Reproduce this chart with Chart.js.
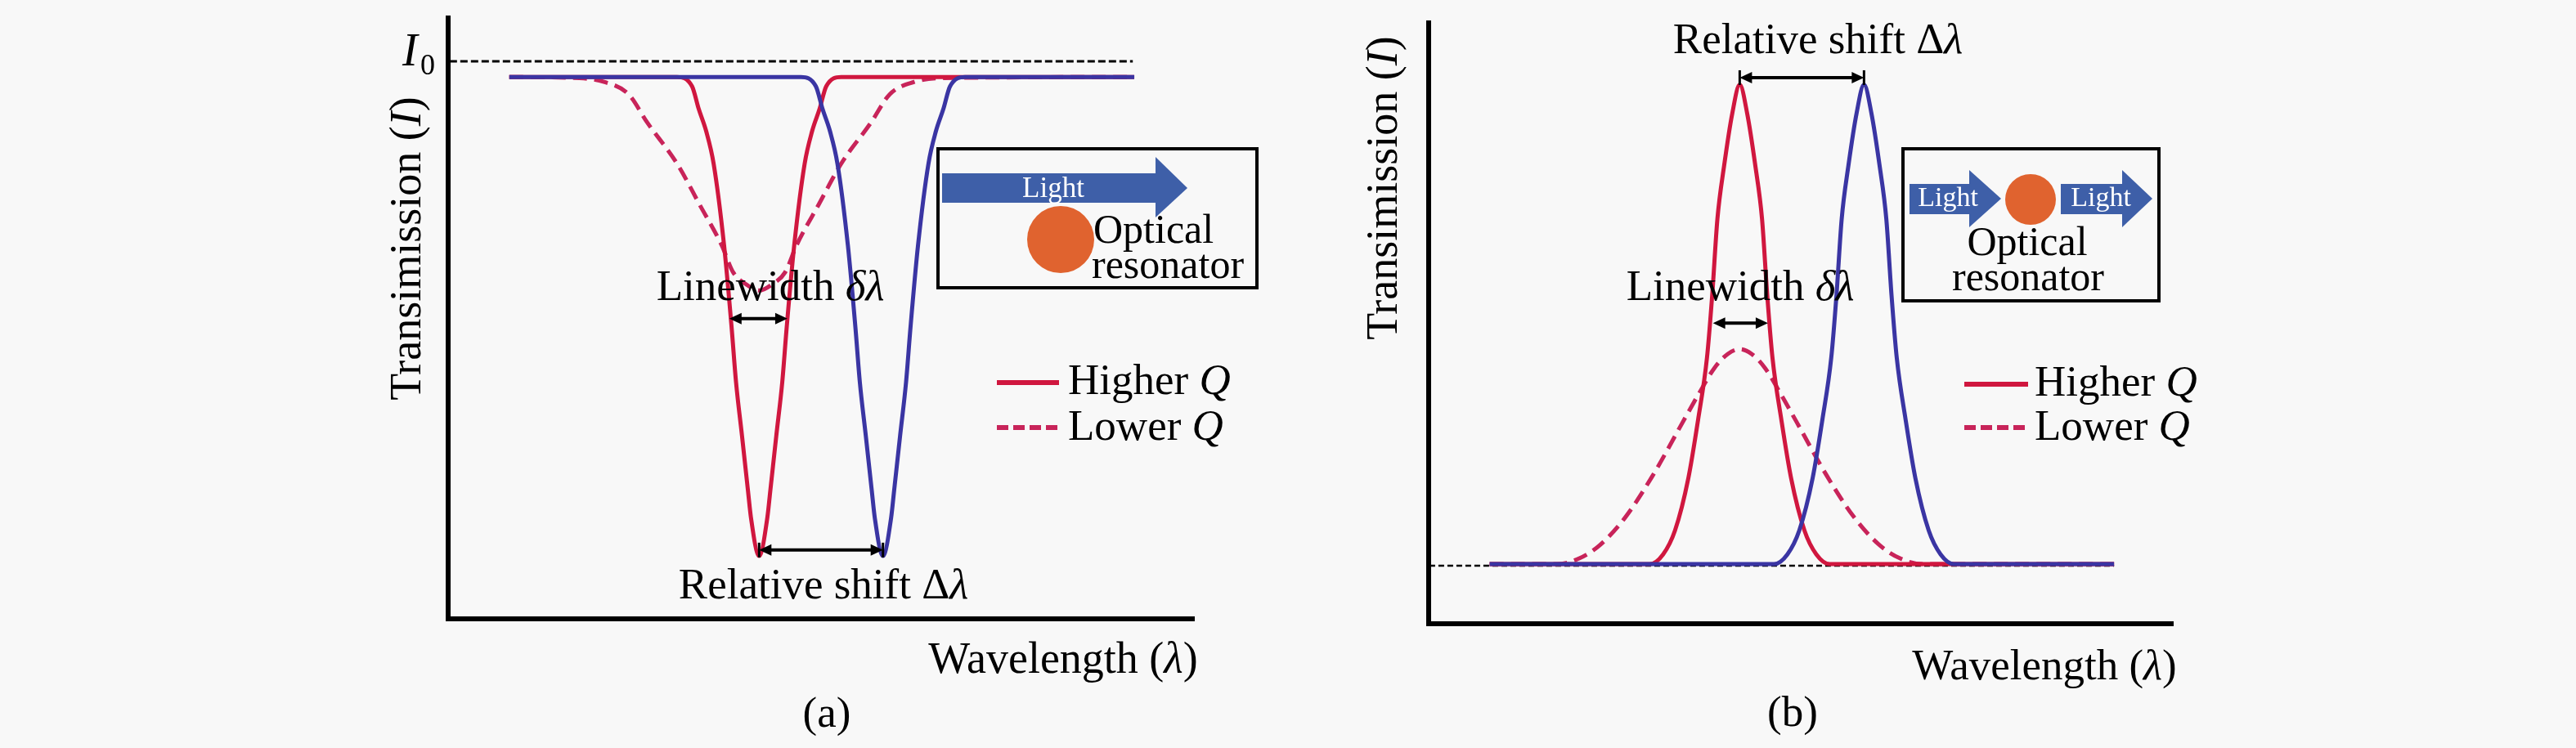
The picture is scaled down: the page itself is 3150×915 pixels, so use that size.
<!DOCTYPE html>
<html>
<head>
<meta charset="utf-8">
<script src="https://cdn.jsdelivr.net/npm/chart.js@4.4.1/dist/chart.umd.min.js"></script>
<style>
  html, body { margin: 0; padding: 0; background: #f8f8f8; }
  #wrap { position: relative; width: 3150px; height: 915px; }
  canvas { position: absolute; top: 0; }
</style>
</head>
<body>
<div id="wrap">
  <canvas id="chartA" width="1575" height="915" style="left:0"></canvas>
  <canvas id="chartB" width="1575" height="915" style="left:1575px"></canvas>
</div>
<script>
// ---- data (wavelength in axis %, transmission normalised) ----
// panel (a): transmission dips
const waveA_red = [8.2, 30.7, 32.7, 33.6, 34.6, 35.6, 37.0, 38.0, 38.6, 39.4, 40.2, 40.6, 41.7, 42.8, 43.2, 44.0, 44.8, 45.4, 46.4, 47.8, 48.8, 49.8, 50.7, 52.7, 92.0];
const transA_red = [1.0, 1.0, 0.983, 0.941, 0.900, 0.840, 0.689, 0.539, 0.437, 0.338, 0.237, 0.187, 0.116, 0.187, 0.237, 0.338, 0.437, 0.539, 0.689, 0.840, 0.900, 0.941, 0.983, 1.0, 1.0];
const waveA_blue = [8.2, 47.3, 49.3, 50.2, 51.2, 52.2, 53.6, 54.6, 55.2, 56.0, 56.8, 57.2, 58.3, 59.4, 59.8, 60.6, 61.4, 62.0, 63.0, 64.4, 65.4, 66.4, 67.3, 69.3, 92.0];
const transA_blue = [1.0, 1.0, 0.983, 0.941, 0.900, 0.840, 0.689, 0.539, 0.437, 0.338, 0.237, 0.187, 0.116, 0.187, 0.237, 0.338, 0.437, 0.539, 0.689, 0.840, 0.900, 0.941, 0.983, 1.0, 1.0];
const waveA_lowQ = [8.2, 17.6, 20.9, 24.2, 26.7, 30.7, 33.7, 36.7, 38.2, 40.0, 41.7, 43.4, 45.2, 46.7, 49.7, 52.7, 56.7, 59.2, 62.5, 65.8, 92.0];
const transA_lowQ = [1.0, 0.998, 0.991, 0.968, 0.916, 0.840, 0.765, 0.689, 0.640, 0.617, 0.606, 0.617, 0.640, 0.689, 0.765, 0.840, 0.916, 0.968, 0.991, 0.998, 1.0];
const waveA_I0 = [0.2, 91.8];
const transA_I0 = [1.029, 1.029];

// panel (b): transmission peaks
const waveB_red = [8.2, 29.7, 31.5, 33.1, 34.9, 36.2, 37.4, 38.1, 38.8, 39.7, 40.8, 41.8, 42.8, 43.9, 44.8, 45.5, 46.2, 47.4, 48.7, 50.5, 52.1, 53.9, 92.1];
const transB_red = [0.110, 0.110, 0.128, 0.172, 0.269, 0.376, 0.491, 0.606, 0.747, 0.845, 0.942, 0.995, 0.942, 0.845, 0.747, 0.606, 0.491, 0.376, 0.269, 0.172, 0.128, 0.110, 0.110];
const waveB_blue = [8.2, 46.4, 48.2, 49.8, 51.6, 52.9, 54.1, 54.8, 55.5, 56.4, 57.5, 58.5, 59.5, 60.6, 61.5, 62.2, 62.9, 64.1, 65.4, 67.2, 68.8, 70.6, 92.1];
const transB_blue = [0.110, 0.110, 0.128, 0.172, 0.269, 0.376, 0.491, 0.606, 0.747, 0.845, 0.942, 0.995, 0.942, 0.845, 0.747, 0.606, 0.491, 0.376, 0.269, 0.172, 0.128, 0.110, 0.110];
const waveB_lowQ = [8.2, 17.2, 20.3, 23.0, 26.4, 30.0, 34.1, 36.2, 38.4, 40.2, 41.8, 43.4, 45.2, 47.4, 49.5, 53.6, 57.2, 60.6, 63.3, 66.4, 92.1];
const transB_lowQ = [0.110, 0.110, 0.121, 0.145, 0.196, 0.271, 0.371, 0.422, 0.472, 0.498, 0.507, 0.498, 0.472, 0.422, 0.371, 0.271, 0.196, 0.145, 0.121, 0.110, 0.110];
const waveB_base = [0.1, 92.1];
const transB_base = [0.107, 0.107];

// annotation arrows: [x from, x to, level]
const linewidthA = [37.7, 45.5, 0.554];
const shiftA = [41.7, 58.3, 0.127];
const linewidthB = [38.2, 45.6, 0.555];
const shiftB = [41.8, 58.5, 1.008];

const RED = '#d0173f', BLUE = '#3a35a3', LOWQ = '#c8245a';
const ARROW = '#3e5fa8', DOT = '#e0632f';
const SERIF = "'Liberation Serif', 'Times New Roman', serif";

function pts(xs, ys) { return xs.map((x, i) => ({ x: x, y: ys[i] })); }

function curve(label, xs, ys, color, width, dash) {
  return {
    label: label, data: pts(xs, ys), borderColor: color, borderWidth: width,
    borderDash: dash || [], pointRadius: 0, fill: false,
    cubicInterpolationMode: 'monotone'
  };
}

function font(size, italic) { return (italic ? 'italic ' : '') + size + 'px ' + SERIF; }

// text made of upright / italic pieces
function rich(ctx, parts, x, y, size, align) {
  let total = 0;
  parts.forEach(p => { ctx.font = font(p[2] || size, p[1]); total += ctx.measureText(p[0]).width; });
  let cx = align === 'center' ? x - total / 2 : (align === 'right' ? x - total : x);
  ctx.textAlign = 'left';
  ctx.textBaseline = 'alphabetic';
  parts.forEach(p => {
    ctx.font = font(p[2] || size, p[1]);
    ctx.fillText(p[0], cx, y);
    cx += ctx.measureText(p[0]).width;
  });
}

function arrow(ctx, x1, x2, y, tick) {
  const h = 15, w = 7;
  ctx.save();
  ctx.strokeStyle = '#000';
  ctx.fillStyle = '#000';
  ctx.lineWidth = 4;
  ctx.beginPath();
  ctx.moveTo(x1 + h * 0.7, y);
  ctx.lineTo(x2 - h * 0.7, y);
  ctx.stroke();
  [[x1, 1], [x2, -1]].forEach(e => {
    ctx.beginPath();
    ctx.moveTo(e[0], y);
    ctx.lineTo(e[0] + e[1] * h, y - w);
    ctx.lineTo(e[0] + e[1] * h, y + w);
    ctx.closePath();
    ctx.fill();
  });
  if (tick) {
    ctx.lineWidth = 3;
    [x1, x2].forEach(x => {
      ctx.beginPath(); ctx.moveTo(x, y - tick); ctx.lineTo(x, y + tick); ctx.stroke();
    });
  }
  ctx.restore();
}

function lightArrow(ctx, x0, x1, xh, yc, body, head, label, size) {
  ctx.fillStyle = ARROW;
  ctx.fillRect(x0, yc - body / 2, xh - x0, body);
  ctx.beginPath();
  ctx.moveTo(xh, yc - head / 2);
  ctx.lineTo(x1, yc);
  ctx.lineTo(xh, yc + head / 2);
  ctx.closePath();
  ctx.fill();
  ctx.fillStyle = '#ffffff';
  rich(ctx, [[label, false]], label.cx, yc + 11, size, 'center');
}

function legend(ctx, x0, x1, tx, y1, y2) {
  ctx.save();
  ctx.lineWidth = 6;
  ctx.strokeStyle = RED;
  ctx.beginPath(); ctx.moveTo(x0, y1); ctx.lineTo(x1, y1); ctx.stroke();
  ctx.strokeStyle = LOWQ;
  ctx.setLineDash([14, 6]);
  ctx.beginPath(); ctx.moveTo(x0, y2); ctx.lineTo(x1, y2); ctx.stroke();
  ctx.restore();
  ctx.fillStyle = '#000';
  rich(ctx, [['Higher ', false], ['Q', true]], tx, y1 + 14, 53, 'left');
  rich(ctx, [['Lower ', false], ['Q', true]], tx, y2 + 15, 53, 'left');
}

function yTitle(ctx, x, y) {
  ctx.save();
  ctx.translate(x, y);
  ctx.rotate(-Math.PI / 2);
  ctx.fillStyle = '#000';
  rich(ctx, [['Transimission (', false], ['I', true], [')', false]], 0, 0, 54, 'center');
  ctx.restore();
}

function box(ctx, l, t, r, b) {
  ctx.save();
  ctx.strokeStyle = '#000';
  ctx.lineWidth = 4;
  ctx.strokeRect(l, t, r - l, b - t);
  ctx.restore();
}

function dot(ctx, x, y, r) {
  ctx.fillStyle = DOT;
  ctx.beginPath(); ctx.arc(x, y, r, 0, Math.PI * 2); ctx.fill();
}

const decorA = {
  id: 'decorA',
  afterDraw(chart) {
    const ctx = chart.ctx;
    const X = v => chart.scales.x.getPixelForValue(v);
    const Y = v => chart.scales.y.getPixelForValue(v);
    ctx.save();
    ctx.fillStyle = '#000';
    rich(ctx, [['I', true]], 492, 80, 56, 'left');
    rich(ctx, [['0', false]], 514, 91, 36, 'left');
    yTitle(ctx, 514, 304);
    ctx.fillStyle = '#000';
    rich(ctx, [['Linewidth ', false], ['\u03b4\u03bb', true]], 942, 367, 53, 'center');
    rich(ctx, [['Relative shift \u0394', false], ['\u03bb', true]], 1007, 732, 53, 'center');
    rich(ctx, [['Wavelength (', false], ['\u03bb', true], [')', false]], 1300, 823, 54, 'center');
    rich(ctx, [['(a)', false]], 1011, 889, 53, 'center');
    arrow(ctx, X(linewidthA[0]), X(linewidthA[1]), Y(linewidthA[2]), 0);
    arrow(ctx, X(shiftA[0]), X(shiftA[1]), Y(shiftA[2]), 9);
    legend(ctx, 1219, 1295, 1306, 468, 523);
    // inset: light passing a resonator
    box(ctx, 1147, 182, 1537, 352);
    const lbl = 'Light';
    ctx.fillStyle = ARROW;
    ctx.fillRect(1152, 212, 1413 - 1152, 36);
    ctx.beginPath(); ctx.moveTo(1413, 192); ctx.lineTo(1452, 230); ctx.lineTo(1413, 266); ctx.closePath(); ctx.fill();
    ctx.fillStyle = '#fff';
    rich(ctx, [[lbl, false]], 1288, 241, 35, 'center');
    dot(ctx, 1297, 293, 41);
    ctx.fillStyle = '#000';
    rich(ctx, [['Optical', false]], 1337, 297, 50, 'left');
    rich(ctx, [['resonator', false]], 1335, 340, 50, 'left');
    ctx.restore();
  }
};

const decorB = {
  id: 'decorB',
  afterDraw(chart) {
    const ctx = chart.ctx;
    const X = v => chart.scales.x.getPixelForValue(v);
    const Y = v => chart.scales.y.getPixelForValue(v);
    ctx.save();
    yTitle(ctx, 133, 230);
    ctx.fillStyle = '#000';
    rich(ctx, [['Relative shift \u0394', false], ['\u03bb', true]], 648, 65, 53, 'center');
    rich(ctx, [['Linewidth ', false], ['\u03b4\u03bb', true]], 553, 367, 53, 'center');
    rich(ctx, [['Wavelength (', false], ['\u03bb', true], [')', false]], 925, 831, 53, 'center');
    rich(ctx, [['(b)', false]], 617, 888, 53, 'center');
    arrow(ctx, X(shiftB[0]), X(shiftB[1]), Y(shiftB[2]), 9);
    arrow(ctx, X(linewidthB[0]), X(linewidthB[1]), Y(linewidthB[2]), 0);
    legend(ctx, 827, 905, 913, 470, 523);
    // inset: light through a resonator
    box(ctx, 752, 182, 1065, 368);
    ctx.fillStyle = ARROW;
    ctx.fillRect(760, 225, 833 - 760, 37);
    ctx.beginPath(); ctx.moveTo(833, 208); ctx.lineTo(872, 243); ctx.lineTo(833, 278); ctx.closePath(); ctx.fill();
    ctx.fillRect(945, 225, 1020 - 945, 37);
    ctx.beginPath(); ctx.moveTo(1020, 208); ctx.lineTo(1057, 243); ctx.lineTo(1020, 278); ctx.closePath(); ctx.fill();
    ctx.fillStyle = '#fff';
    rich(ctx, [['Light', false]], 807, 252, 34, 'center');
    rich(ctx, [['Light', false]], 994, 252, 34, 'center');
    dot(ctx, 908, 244, 31);
    ctx.fillStyle = '#000';
    rich(ctx, [['Optical', false]], 904, 312, 50, 'center');
    rich(ctx, [['resonator', false]], 905, 355, 50, 'center');
    ctx.restore();
  }
};

function axisOpts(min, max) {
  return {
    type: 'linear', min: min, max: max, display: true,
    grid: { display: false, drawTicks: false },
    ticks: { display: false },
    border: { display: true, color: '#000', width: 6 }
  };
}

function makeChart(id, datasets, padding, plugin) {
  return new Chart(document.getElementById(id).getContext('2d'), {
    type: 'line',
    data: { datasets: datasets },
    options: {
      responsive: false, animation: false, devicePixelRatio: 1,
      layout: { padding: padding },
      plugins: { legend: { display: false }, tooltip: { enabled: false } },
      scales: { x: axisOpts(0, 100), y: axisOpts(0, 1.109) }
    },
    plugins: [plugin]
  });
}

// dataset 0 is drawn on top
makeChart('chartA', [
  curve('Shifted', waveA_blue, transA_blue, BLUE, 5),
  curve('Higher Q', waveA_red, transA_red, RED, 5),
  curve('Lower Q', waveA_lowQ, transA_lowQ, LOWQ, 5, [17, 9]),
  curve('I0', waveA_I0, transA_I0, '#000', 3, [9, 4])
], { left: 548, right: 115, top: 22, bottom: 158 }, decorA);

makeChart('chartB', [
  curve('Shifted', waveB_blue, transB_blue, BLUE, 5),
  curve('Higher Q', waveB_red, transB_red, RED, 5),
  curve('Lower Q', waveB_lowQ, transB_lowQ, LOWQ, 5, [17, 9]),
  curve('Baseline', waveB_base, transB_base, '#000', 2.5, [7, 4])
], { left: 172, right: 493, top: 28, bottom: 152 }, decorB);
</script>
</body>
</html>
